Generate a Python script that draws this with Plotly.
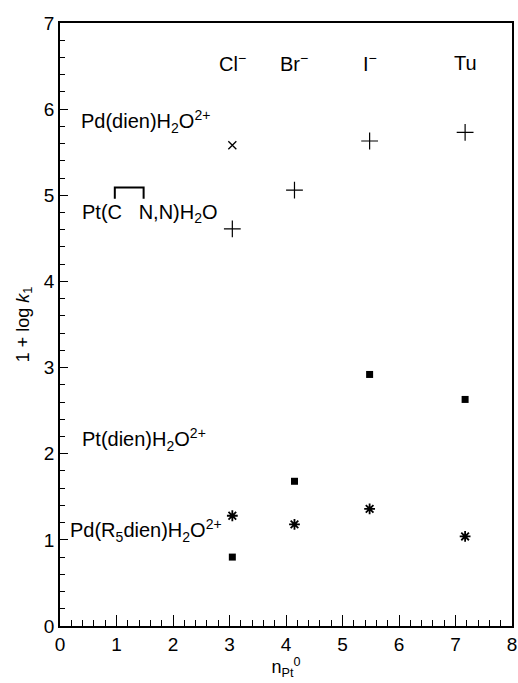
import plotly.graph_objects as go

# ---- data ----
anions = ["Cl<sup>\u2212</sup>", "Br<sup>\u2212</sup>", "I<sup>\u2212</sup>", "Tu"]
anion_x = [3.05, 4.15, 5.48, 7.17]

pd_dien_x = [3.05]
pd_dien_y = [5.58]

pt_cnn_x = [3.05, 4.15, 5.48, 7.17]
pt_cnn_y = [4.61, 5.06, 5.63, 5.73]

pt_dien_x = [3.05, 4.15, 5.48, 7.17]
pt_dien_y = [0.80, 1.68, 2.92, 2.63]

pd_r5_x = [3.05, 4.15, 5.48, 7.17]
pd_r5_y = [1.28, 1.18, 1.36, 1.04]

series_labels = [
    "Pd(dien)H<sub>2</sub>O<sup>2+</sup>",
    "Pt(C\u00a0\u00a0\u00a0N,N)H<sub>2</sub>O",
    "Pt(dien)H<sub>2</sub>O<sup>2+</sup>",
    "Pd(R<sub>5</sub>dien)H<sub>2</sub>O<sup>2+</sup>",
]
label_x = [0.33, 0.35, 0.35, 0.15]
label_y = [5.86, 4.79, 2.16, 1.11]

FONT = "Liberation Sans, Arial, sans-serif"

fig = go.Figure()
fig.add_trace(go.Scatter(x=pd_dien_x, y=pd_dien_y, mode="markers",
                         marker=dict(symbol="x-thin-open", size=8, color="black",
                                     line=dict(width=1.3, color="black"))))
fig.add_trace(go.Scatter(x=pt_cnn_x, y=pt_cnn_y, mode="markers",
                         marker=dict(symbol="cross-thin-open", size=12, color="black",
                                     line=dict(width=1.2, color="black"))))
fig.add_trace(go.Scatter(x=pt_dien_x, y=pt_dien_y, mode="markers",
                         marker=dict(symbol="square", size=7, color="black",
                                     line=dict(width=0))))
fig.add_trace(go.Scatter(x=pd_r5_x, y=pd_r5_y, mode="markers",
                         marker=dict(symbol="asterisk-open", size=9, color="black",
                                     line=dict(width=1.8, color="black"))))

for t, x in zip(anions, anion_x):
    fig.add_annotation(x=x, y=6.54, text=t, showarrow=False, xanchor="center",
                       yanchor="middle", font=dict(size=20, color="black", family=FONT))

for t, x, y in zip(series_labels, label_x, label_y):
    fig.add_annotation(x=x, y=y, text=t, showarrow=False, xanchor="left",
                       yanchor="middle", font=dict(size=20, color="black", family=FONT))

# bracket over C ... N in the Pt(C N,N) label
fig.add_shape(type="path", xref="x", yref="y",
              path="M 0.97 4.96 L 0.97 5.09 L 1.48 5.09 L 1.48 4.96",
              line=dict(color="black", width=2))

fig.update_layout(
    width=518, height=683,
    margin=dict(l=60, r=6, t=23, b=57, autoexpand=False),
    paper_bgcolor="white", plot_bgcolor="white",
    showlegend=False,
    font=dict(family=FONT, size=19, color="black"),
)
fig.update_xaxes(range=[0, 8], dtick=1, tick0=0, ticks="inside", ticklen=11, tickwidth=1.3,
                 tickcolor="black", showline=True, linecolor="black", linewidth=1.6,
                 mirror=True, showgrid=False, zeroline=False, automargin=False,
                 ticklabeloverflow="allow",
                 minor=dict(dtick=0.2, ticks="inside", ticklen=6, tickwidth=1, tickcolor="black", showgrid=False),
                 title=dict(text="n<sub>Pt</sub><sup>0</sup>", font=dict(size=18), standoff=2),
                 tickfont=dict(size=19))
fig.update_yaxes(range=[0, 7], dtick=1, tick0=0, ticks="inside", ticklen=8, tickwidth=1.3,
                 tickcolor="black", showline=True, linecolor="black", linewidth=1.6,
                 mirror=True, showgrid=False, zeroline=False, automargin=False,
                 minor=dict(dtick=0.2, ticks="inside", ticklen=5, tickwidth=1, tickcolor="black", showgrid=False),
                 title=dict(text="1 + log <i>k</i><sub>1</sub>", font=dict(size=18), standoff=10),
                 tickfont=dict(size=19))

fig.write_html("out.html", config={"displayModeBar": False},
               post_script="document.body.style.margin='0';document.body.style.overflow='hidden';")
